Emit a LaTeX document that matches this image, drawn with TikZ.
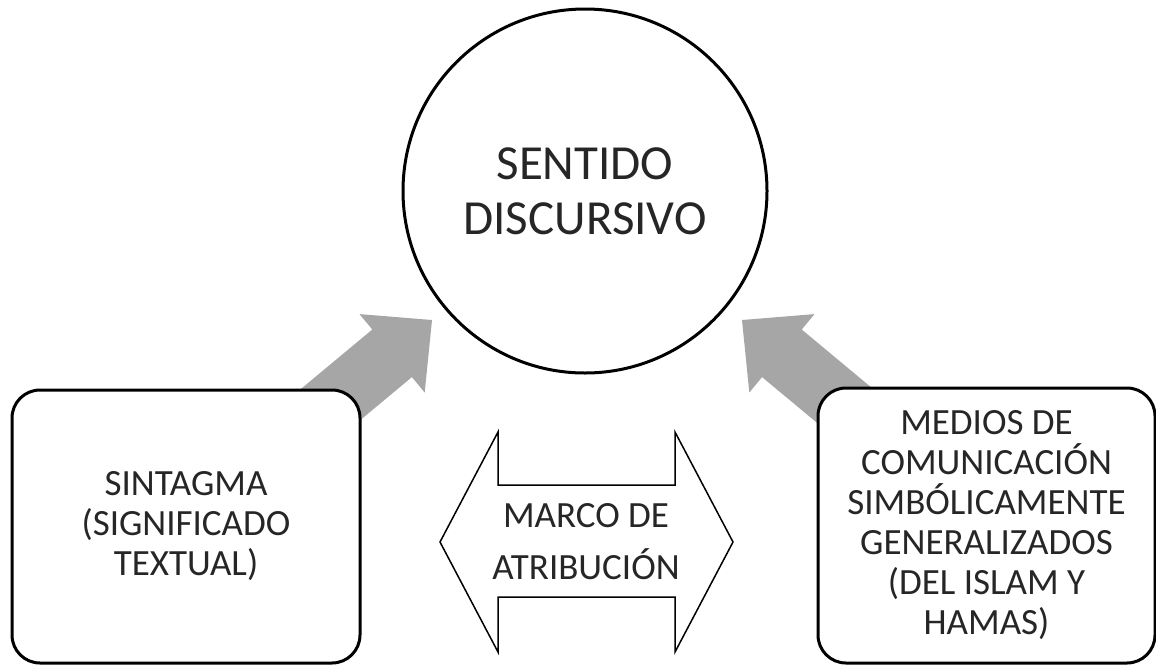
\documentclass[tikz,border=0pt]{standalone}
\usepackage{fontspec}
\setmainfont{Carlito}
\definecolor{arrowgray}{HTML}{A6A6A6}
\definecolor{inkgray}{HTML}{262626}
\begin{document}
\begin{tikzpicture}[x=1pt,y=-1pt]
\tikzset{
  boxtxt/.style={text=inkgray, align=center, font=\fontsize{37}{40}\selectfont},
  roundbox/.style={draw=black, line width=3pt, rounded corners=28pt, fill=white, inner sep=0pt, boxtxt},
  blockarrow/.style={fill=arrowgray, draw=none},
  dblarrow/.style={draw=black, line width=1.5pt, fill=white, line join=miter},
}
\useasboundingbox (0,0) rectangle (1156,665);
% gray block arrows (drawn first, partly hidden by the boxes)
\fill[blockarrow] (289.3,398.6) -- (372.3,329.5) -- (359.5,314.1) -- (432,320) -- (424.7,392.5) -- (411.9,377.1) -- (328.9,446.2) -- cycle;
\fill[blockarrow] (884.7,398.6) -- (801.7,329.5) -- (814.5,314.1) -- (742,320) -- (749.3,392.5) -- (762.1,377.1) -- (845.1,446.2) -- cycle;
% circle
\node[circle, draw=black, line width=3pt, fill=white, minimum size=364pt, inner sep=0pt,
      text=inkgray, align=center, font=\fontsize{49}{55}\selectfont] (sentido) at (585,191) {SENTIDO\\DISCURSIVO};
% boxes
\node[roundbox, minimum width=348pt, minimum height=273pt] (sintagma) at (186,526.5) {SINTAGMA\\(SIGNIFICADO\\TEXTUAL)};
\node[roundbox, minimum width=337pt, minimum height=275pt] (medios) at (986.5,525.5) {MEDIOS DE\\COMUNICACIÓN\\SIMBÓLICAMENTE\\GENERALIZADOS\\(DEL ISLAM Y\\HAMAS)};
% double arrow
\draw[dblarrow] (440,542) -- (498,432) -- (498,485) -- (675,485) -- (675,432) -- (733,542) -- (675,652) -- (675,597) -- (498,597) -- (498,652) -- cycle;
\node[boxtxt, font=\fontsize{37}{52}\selectfont] (marco) at (586,542) {MARCO DE\\ATRIBUCIÓN};
\end{tikzpicture}
\end{document}
